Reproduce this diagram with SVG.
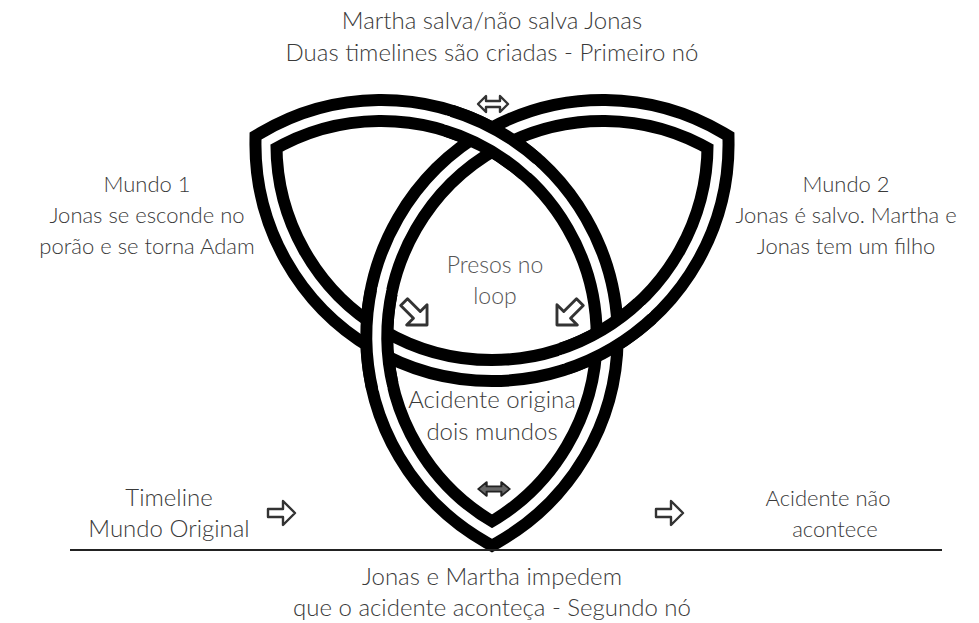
<svg xmlns="http://www.w3.org/2000/svg" xmlns:xlink="http://www.w3.org/1999/xlink" width="979" height="623" viewBox="0 0 979 623">
<style>
  .bb { fill:none; stroke:#000; stroke-width:33; stroke-linejoin:miter; stroke-miterlimit:6; }
  .bw { fill:none; stroke:#fff; stroke-width:9; stroke-linejoin:miter; stroke-miterlimit:6; }
  text { font-family: Lato, "Open Sans", "Liberation Sans", sans-serif; font-weight:300; font-size:24px; fill:#3a3a3a; text-anchor:middle; }
  .side text { font-size:22px; }
  .gill { font-size:23px; fill:#555; }
  .arr { fill:#fff; stroke:#333; stroke-width:2.4; stroke-linejoin:round; vector-effect:non-scaling-stroke; }
  .arrd { fill:#666; stroke:#222; stroke-width:2; stroke-linejoin:round; }
  .base { stroke:#222; stroke-width:2; }
</style>
<defs>
  <path id="knotPath" d="M 265.97 142 A 226 226 0 0 1 492 139.5 A 226 226 0 0 1 607.18 339 A 226 226 0 0 1 492 533.5 A 226 226 0 0 1 376.82 339 A 226 226 0 0 1 492 139.5 A 226 226 0 0 1 718.03 142 A 226 226 0 0 1 607.18 339 A 226 226 0 0 1 376.82 339 A 226 226 0 0 1 265.97 142 Z"/>
  <path id="segTop" d="M 448.72 120.85 A 226 226 0 0 1 530.60 166.98"/>
  <path id="segLL" d="M 382.29 385.79 A 226 226 0 0 1 381.30 291.82"/>
  <path id="segLR" d="M 644.98 310.86 A 226 226 0 0 1 564.09 358.70"/>
  <path id="segTopW" d="M 444.95 119.70 A 226 226 0 0 1 533.54 169.62"/>
  <path id="segLLW" d="M 383.18 389.63 A 226 226 0 0 1 382.12 287.98"/>
  <path id="segLRW" d="M 647.85 308.17 A 226 226 0 0 1 560.34 359.92"/>
  <path id="dbl" d="M-15 0 L-7 -8 L-7 -3 L7 -3 L7 -8 L15 0 L7 8 L7 3 L-7 3 L-7 8 Z"/>
  <path id="rarr" d="M-14 -4 L1 -4 L1 -12 L13 0 L1 12 L1 4 L-14 4 Z"/>
</defs>

<g id="knot">
  <use xlink:href="#knotPath" class="bb"/>
  <use xlink:href="#knotPath" class="bw"/>
  <use xlink:href="#segTop" class="bb"/>
  <use xlink:href="#segTopW" class="bw"/>
  <use xlink:href="#segLL" class="bb"/>
  <use xlink:href="#segLLW" class="bw"/>
  <use xlink:href="#segLR" class="bb"/>
  <use xlink:href="#segLRW" class="bw"/>
</g>

<line id="baseline" class="base" x1="70" y1="550" x2="942" y2="550"/>

<g id="connectors">
  <use xlink:href="#dbl" class="arr" transform="translate(493,104)"/>
  <use xlink:href="#dbl" class="arrd" transform="translate(494,489) scale(1.05,0.85)"/>
  <use xlink:href="#rarr" class="arr" transform="translate(416,314) rotate(45) scale(1.2)"/>
  <use xlink:href="#rarr" class="arr" transform="translate(568,314) rotate(135) scale(1.2)"/>
  <use xlink:href="#rarr" class="arr" transform="translate(282,513)"/>
  <use xlink:href="#rarr" class="arr" transform="translate(670,513)"/>
</g>

<g id="label-top">
  <text x="492" y="29">Martha salva/não salva Jonas</text>
  <text x="492" y="61">Duas timelines são criadas - Primeiro nó</text>
</g>
<g id="label-mundo1" class="side">
  <text x="147" y="192">Mundo 1</text>
  <text x="147" y="223">Jonas se esconde no</text>
  <text x="147" y="254">porão e se torna Adam</text>
</g>
<g id="label-mundo2" class="side">
  <text x="846" y="192">Mundo 2</text>
  <text x="846" y="223">Jonas é salvo. Martha e</text>
  <text x="846" y="254">Jonas tem um filho</text>
</g>
<g id="label-presos">
  <text class="gill" x="495" y="273">Presos no</text>
  <text class="gill" x="495" y="304">loop</text>
</g>
<g id="label-acidente">
  <text x="492" y="408">Acidente origina</text>
  <text x="492" y="440">dois mundos</text>
</g>
<g id="label-timeline">
  <text x="169" y="506">Timeline</text>
  <text x="169" y="537">Mundo Original</text>
</g>
<g id="label-nao" class="side">
  <text x="828" y="506">Acidente não</text>
  <text x="835" y="537">acontece</text>
</g>
<g id="label-bottom">
  <text x="492" y="585">Jonas e Martha impedem</text>
  <text x="492" y="616">que o acidente aconteça - Segundo nó</text>
</g>
</svg>
